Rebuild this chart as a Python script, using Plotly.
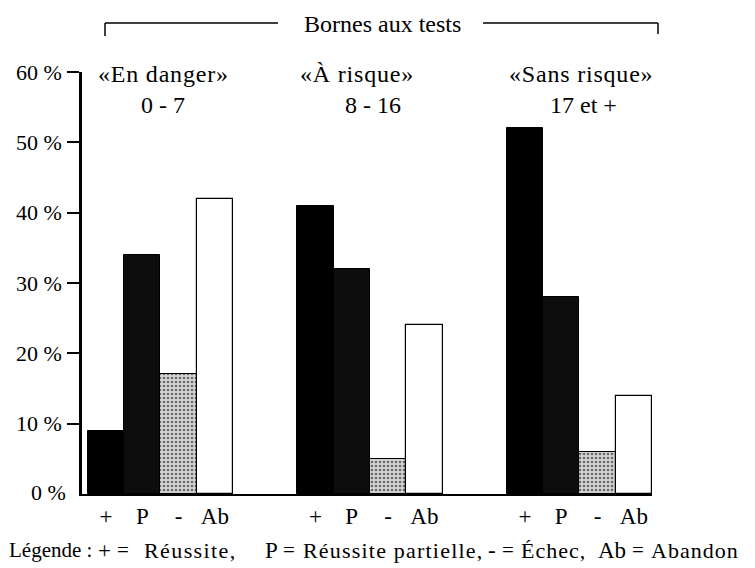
import plotly.graph_objects as go

# ---- data ----
groups = ["«En danger»", "«À risque»", "«Sans risque»"]
ranges = ["0 - 7", "8 - 16", "17 et +"]
series = ["+", "P", "-", "Ab"]
values = {
    "+": [9, 41, 52],
    "P": [34, 32, 28],
    "-": [17, 5, 6],
    "Ab": [42, 24, 14],
}
y_ticks = [0, 10, 20, 30, 40, 50, 60]
y_ticktext = ["0 %", "10 %", "20 %", "30 %", "40 %", "50 %", "60 %"]
top_title = "Bornes aux tests"
legend_parts = ["Légende :", "+", "=", "Réussite,", "P", "=", "Réussite partielle,",
                "-", "=", "Échec,", "Ab", "=", "Abandon"]

# ---- layout constants (page pixel coordinates) ----
PAGE_W, PAGE_H = 755, 568
OFF = 8                       # default body margin of the html page
X0, X1, Y0, Y1 = 82, 652, 72, 494   # plot area on the page
W, H = PAGE_W - OFF, PAGE_H - OFF
L, T = X0 - OFF, Y0 - OFF
R, B = PAGE_W - X1, PAGE_H - Y1
PW, PH = X1 - X0, Y1 - Y0
GROUP_STEP = 5.77
FONT = "Liberation Serif"

def px(x):
    return (x - X0) / PW

def py(y):
    return (Y1 - y) / PH

styles = {
    "+": dict(color="#000000", line=dict(color="#000000", width=1)),
    "P": dict(color="#0d0d0d", line=dict(color="#000000", width=1)),
    "-": dict(color="#c4c4c4", line=dict(color="#000000", width=1),
              pattern=dict(shape=".", fgcolor="#6a6a6a", bgcolor="#d4d4d4",
                           size=4, solidity=0.35)),
    "Ab": dict(color="#ffffff", line=dict(color="#000000", width=1.2)),
}

fig = go.Figure()
tickvals, ticktext = [], []
for i, s in enumerate(series):
    xs = [g * GROUP_STEP + i for g in range(len(groups))]
    tickvals += xs
    ticktext += [s] * len(xs)
    fig.add_trace(go.Bar(x=xs, y=values[s], width=1, marker=styles[s],
                         name=s, showlegend=False))

fig.update_layout(
    template="none",
    width=W, height=H,
    margin=dict(l=L, r=R, t=T, b=B, pad=0),
    paper_bgcolor="white", plot_bgcolor="white",
    font=dict(family=FONT, color="black", size=22),
    bargap=0,
)
fig.update_xaxes(
    automargin=False,
    range=[-0.66, 2 * GROUP_STEP + 3.5],
    tickvals=tickvals, ticktext=ticktext,
    showline=True, linecolor="black", linewidth=2,
    showgrid=False, zeroline=False, ticks="",
    tickfont=dict(size=23),
)
fig.update_yaxes(
    automargin=False,
    range=[0, 60],
    tickvals=y_ticks[1:], ticktext=y_ticktext[1:],
    showline=True, linecolor="black", linewidth=2.5,
    showgrid=False, zeroline=False,
    ticks="outside", ticklen=12, tickwidth=2, tickcolor="black",
    tickfont=dict(size=22), ticklabelstandoff=1,
)

ann = []
# 0 % label (no tick in the original)
ann.append(dict(x=px(68), y=py(492), xref="paper", yref="paper", text=y_ticktext[0],
                showarrow=False, xanchor="right", yanchor="middle", font=dict(size=22)))
# group labels
label_x = [163, 357, 581]
range_x = [163, 373, 583]
for g in range(len(groups)):
    ann.append(dict(x=px(label_x[g]), y=py(74), xref="paper", yref="paper",
                    text=f"<span style='letter-spacing:0.8px'>{groups[g]}</span>",
                    showarrow=False, xanchor="center", yanchor="middle",
                    font=dict(size=24)))
    ann.append(dict(x=px(range_x[g]), y=py(105), xref="paper", yref="paper",
                    text=ranges[g], showarrow=False, xanchor="center", yanchor="middle",
                    font=dict(size=24)))
# title of bracket
ann.append(dict(x=px(382), y=py(24), xref="paper", yref="paper", text=top_title,
                showarrow=False, xanchor="center", yanchor="middle", font=dict(size=24)))
# legend line, piece by piece
legend_x = [50, 104, 123, 190, 271, 289, 393, 492, 508, 553, 612, 638, 695]
legend_size = [21, 23, 21, 22, 23, 21, 22, 23, 21, 22, 23, 21, 22]
legend_ls = [0, 0, 0, 1.4, 0, 0, 1.2, 0, 0, 1.0, 0, 0, 1.0]
for t, x, s, ls in zip(legend_parts, legend_x, legend_size, legend_ls):
    txt = f"<span style='letter-spacing:{ls}px'>{t}</span>" if ls else t
    ann.append(dict(x=px(x), y=py(550), xref="paper", yref="paper",
                    text=txt, showarrow=False, xanchor="center", yanchor="middle",
                    font=dict(size=s)))
fig.update_layout(annotations=ann)

line = dict(color="black", width=1.5)
shapes = [
    dict(type="line", xref="paper", yref="paper", x0=px(105), x1=px(278), y0=py(23), y1=py(23), line=line),
    dict(type="line", xref="paper", yref="paper", x0=px(105), x1=px(105), y0=py(23), y1=py(36), line=line),
    dict(type="line", xref="paper", yref="paper", x0=px(483), x1=px(658), y0=py(23), y1=py(23), line=line),
    dict(type="line", xref="paper", yref="paper", x0=px(658), x1=px(658), y0=py(23), y1=py(34), line=line),
]
fig.update_layout(shapes=shapes)

fig.write_html("out.html")
